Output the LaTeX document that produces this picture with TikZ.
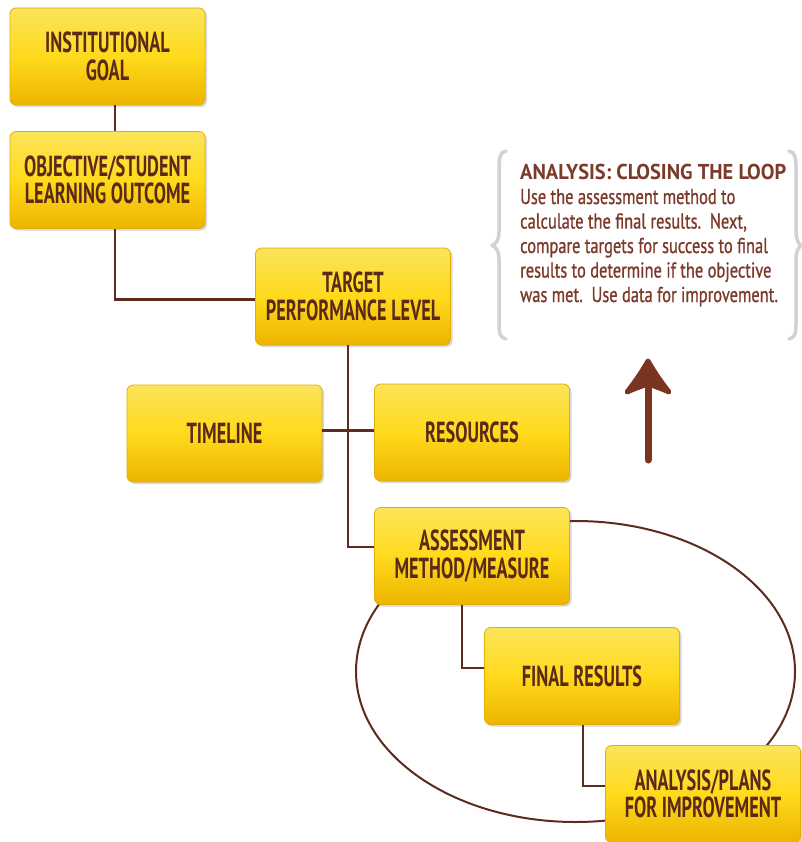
\documentclass[tikz,border=0pt]{standalone}
\usepackage{fontspec}
\usetikzlibrary{shadows}
\newfontfamily\boxfont[FakeStretch=0.63]{PT Sans}
\newfontfamily\bodyfont[FakeStretch=0.765,FakeBold=0.8]{PT Sans}
\newfontfamily\titlefont[FakeStretch=0.95]{PT Sans}
\definecolor{textbrown}{HTML}{5A2A17}
\definecolor{linebrown}{HTML}{5E2B20}
\definecolor{arrowbrown}{HTML}{7A3422}
\definecolor{bodybrown}{HTML}{7B3A2A}
\definecolor{ytop}{HTML}{FBE45A}
\definecolor{ymid}{HTML}{FFDA1C}
\definecolor{ybot}{HTML}{EDB400}
\definecolor{boxedge}{HTML}{E3AE05}
\definecolor{bracegray}{HTML}{D2D2D2}
\tikzset{
  box/.style={draw=boxedge, line width=0.8pt, rounded corners=6pt,
    minimum width=195pt, minimum height=97pt, inner sep=0pt,
    top color=ytop, bottom color=ybot, middle color=ymid,
    align=center, text=textbrown,
    font=\boxfont\bfseries\fontsize{29}{27.5}\selectfont,
    drop shadow={shadow xshift=2pt, shadow yshift=-2pt, opacity=0.25, fill=black!60}},
  conn/.style={draw=linebrown, line width=2.6pt},
  bodytext/.style={anchor=base west, inner sep=0pt, text=bodybrown,
    font=\bodyfont\fontsize{21.5}{24}\selectfont},
  bracestyle/.style={draw=bracegray, line width=3.5pt, line cap=round, line join=round}
}
\begin{document}
\begin{tikzpicture}[x=1pt,y=-1pt]
\useasboundingbox (0,0) rectangle (801,842);
\fill[white] (0,0) rectangle (801,842);

% loop ellipse
\draw[linebrown, line width=2pt] (575.5,671.5) ellipse [x radius=219.5pt, y radius=150.5pt];

% boxes
\node[box] (b1) at (107.5,56.5) {INSTITUTIONAL\\GOAL};
\node[box] (b2) at (107.5,180) {OBJECTIVE/STUDENT\\LEARNING OUTCOME};
\node[box] (b3) at (353,296.5) {TARGET\\PERFORMANCE LEVEL};
\node[box] (b4) at (224.5,433.5) {TIMELINE};
\node[box] (b5) at (472,432.5) {RESOURCES};
\node[box] (b6) at (472,556) {ASSESSMENT\\METHOD/MEASURE};
\node[box] (b7) at (582,676) {FINAL RESULTS};
\node[box] (b8) at (703,794) {ANALYSIS/PLANS\\FOR IMPROVEMENT};

% connectors
\draw[conn] ([xshift=7.5pt]b1.south) -- ([xshift=7.5pt]b2.north);
\draw[conn] ([xshift=7.5pt]b2.south) |- ([yshift=-3pt]b3.west);
\draw[conn] ([xshift=-5pt]b3.south) |- ([yshift=9pt]b6.west);
\draw[conn] ([yshift=3pt]b4.east) -- ([yshift=2pt]b5.west);
\draw[conn] ([xshift=-10pt]b6.south) |- ([yshift=8pt]b7.west);
\draw[conn] ([xshift=1pt]b7.south) |- ([yshift=8pt]b8.west);

% arrow
\coordinate (arrbot) at (648,460);
\coordinate (arrtip) at (648,361);
\draw[arrowbrown, line width=7pt, line cap=round] (arrbot) -- (648,385);
\filldraw[arrowbrown, line width=5pt, line join=round]
  (arrtip) .. controls (640,375) and (634,383) .. (627,392) .. controls (636,388) and (642,386) .. (648,384) .. controls (654,386) and (660,388) .. (669,392) .. controls (662,383) and (656,375) .. (arrtip) -- cycle;

% braces
\draw[bracestyle] (506,151) .. controls (500,152) and (499,158) .. (499,168)
  -- (499,232) .. controls (499,240) and (496,244) .. (492,245.5)
  .. controls (496,247) and (499,251) .. (499,259)
  -- (499,324) .. controls (499,333) and (500,338) .. (506,339);
\draw[bracestyle] (789,151) .. controls (795,152) and (796,158) .. (796,168)
  -- (796,232) .. controls (796,240) and (799,244) .. (801,245.5)
  .. controls (799,247) and (796,251) .. (796,259)
  -- (796,324) .. controls (796,333) and (795,338) .. (789,339);

% text
\node[anchor=base west, inner sep=0pt, text=bodybrown,
  font=\titlefont\bfseries\fontsize{21.5}{24}\selectfont] (title) at (520,180) {ANALYSIS: CLOSING THE LOOP};
\node[bodytext] (l1) at (520,204) {Use the assessment method to};
\node[bodytext] (l2) at (520,228.5) {calculate the final results.\ \ Next,};
\node[bodytext] (l3) at (520,253) {compare targets for success to final};
\node[bodytext] (l4) at (520,277.5) {results to determine if the objective};
\node[bodytext] (l5) at (520,302) {was met.\ \ Use data for improvement.};
\end{tikzpicture}
\end{document}
